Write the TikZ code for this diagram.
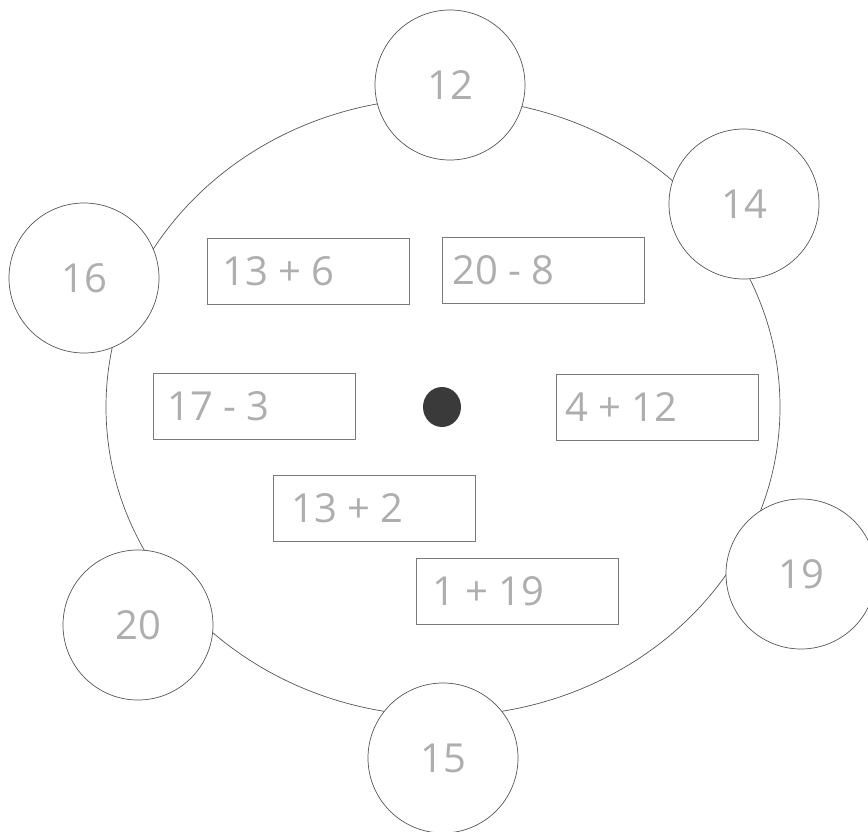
\documentclass[tikz,border=0pt]{standalone}
\usepackage{fontspec}
\newfontfamily\numfont{Open Sans}
\usetikzlibrary{shapes.geometric}
\definecolor{linegray}{HTML}{555555}
\definecolor{boxgray}{HTML}{7A7A7A}
\definecolor{txtgray}{HTML}{AEAEAE}
\definecolor{dotgray}{HTML}{3A3A3A}
\tikzset{
  rimline/.style={draw=linegray, line width=0.7pt},
  numcircle/.style={circle, draw=linegray, line width=0.7pt, fill=white, minimum size=150pt, inner sep=0pt,
    text=txtgray, font=\numfont\fontsize{40}{42}\selectfont},
  sumbox/.style={rectangle, draw=boxgray, line width=0.6pt, minimum width=202pt, minimum height=66pt, anchor=north west, inner sep=0pt},
  sumtext/.style={anchor=west, inner sep=0pt, text=txtgray, font=\numfont\fontsize{40}{42}\selectfont},
}
\begin{document}
\begin{tikzpicture}[x=1pt, y=-1pt]
\useasboundingbox (0,0) rectangle (868,832);
% rim
\node[ellipse, rimline, minimum width=674pt, minimum height=618pt, inner sep=0pt] (rim) at (443,407) {};
% outer number circles
\node[numcircle] (c12) at (450,85) {12};
\node[numcircle] (c14) at (744,204) {14};
\node[numcircle] (c16) at (84,278) {16};
\node[numcircle] (c19) at (801,574) {19};
\node[numcircle] (c20) at (138,625) {20};
\node[numcircle] (c15) at (443,758) {15};
% hub
\node[ellipse, fill=dotgray, minimum width=38pt, minimum height=40pt, inner sep=0pt] (hub) at (442,407) {};
% sum boxes
\node[sumbox] (b1) at (207,238) {};
\node[sumtext] (t1) at ([xshift=15pt]b1.west) {13 + 6};
\node[sumbox] (b2) at (442,237) {};
\node[sumtext] (t2) at ([xshift=10pt]b2.west) {20 - 8};
\node[sumbox] (b3) at (153,373) {};
\node[sumtext] (t3) at ([xshift=14pt]b3.west) {17 - 3};
\node[sumbox] (b4) at (556,374) {};
\node[sumtext] (t4) at ([xshift=9pt]b4.west) {4 + 12};
\node[sumbox] (b5) at (273,475) {};
\node[sumtext] (t5) at ([xshift=18pt]b5.west) {13 + 2};
\node[sumbox] (b6) at (416,558) {};
\node[sumtext] (t6) at ([xshift=16pt]b6.west) {1 + 19};
\end{tikzpicture}
\end{document}
